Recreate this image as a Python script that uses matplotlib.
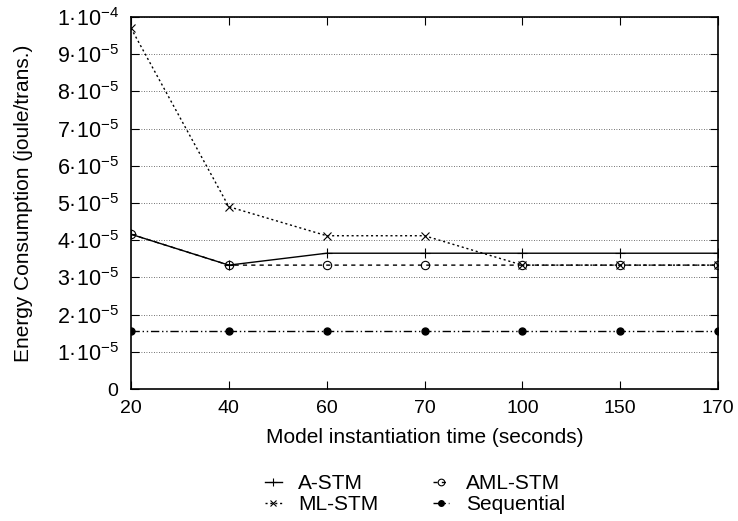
import matplotlib.pyplot as plt

plt.rcParams['font.family'] = ['Liberation Sans', 'DejaVu Sans']
plt.rcParams['mathtext.fontset'] = 'custom'
plt.rcParams['mathtext.rm'] = 'Liberation Sans'
plt.rcParams['mathtext.default'] = 'regular'

# valores
tempos = ['20', '40', '60', '70', '100', '150', '170']
a_stm = [4.16e-5, 3.33e-5, 3.65e-5, 3.65e-5, 3.65e-5, 3.65e-5, 3.65e-5]
ml_stm = [9.7e-5, 4.9e-5, 4.12e-5, 4.12e-5, 3.33e-5, 3.33e-5, 3.33e-5]
aml_stm = [4.16e-5, 3.33e-5, 3.33e-5, 3.33e-5, 3.33e-5, 3.33e-5, 3.33e-5]
sequencial = [1.56e-5] * 7

yticks = [i * 1e-5 for i in range(11)]
ylabels = ['0'] + ['%d·10$^{-5}$' % i for i in range(1, 10)] + ['1·10$^{-4}$']

fig = plt.figure(figsize=(7.38, 5.21), dpi=100)
ax = fig.add_axes([131 / 738, 1 - 389 / 521, (718 - 131) / 738, (389 - 17) / 521])

x = list(range(len(tempos)))
ax.plot(x, a_stm, color='black', lw=1, ls='-', marker='+', ms=7, mew=0.8, label='A-STM')
ax.plot(x, ml_stm, color='black', lw=1, ls=(0, (1.5, 2)), marker='x', ms=6, mew=0.8, label='ML-STM')
ax.plot(x, aml_stm, color='black', lw=1, ls=(0, (3, 3)), marker='o', ms=6, mfc='none', mew=0.8, label='AML-STM')
ax.plot(x, sequencial, color='black', lw=1, ls=(0, (6, 2, 1, 2, 1, 2)), marker='o', ms=5, label='Sequential')

ax.set_xlim(0, len(tempos) - 1)
ax.set_ylim(0, 1e-4)
ax.set_xticks(x)
ax.set_xticklabels(tempos)
ax.set_yticks(yticks)
ax.set_yticklabels(ylabels, fontsize=15.5)
ax.get_yticklabels()[0].set_fontsize(14)  # o "0" tem o mesmo tamanho dos rótulos do eixo x
ax.tick_params(direction='in', top=True, right=True, length=6, width=0.8)
ax.tick_params(axis='x', pad=8, labelsize=14)
ax.tick_params(axis='y', pad=9)
for s in ax.spines.values():
    s.set_linewidth(1.2)
ax.yaxis.grid(True, ls=(0, (1, 2)), color='#444444', lw=0.6)

ax.set_xlabel('Model instantiation time (seconds)', fontsize=15, labelpad=8)
ax.set_ylabel('Energy Consumption (joule/trans.)', fontsize=15, labelpad=17)

fig.legend(loc='upper left', bbox_to_anchor=(265 / 738, 1 - 474 / 521), ncol=2, frameon=False,
           fontsize=15, handlelength=0.8, handletextpad=0.8, columnspacing=2.6,
           labelspacing=0.1, borderaxespad=0, borderpad=0, markerscale=0.8)

fig.savefig('out.png', dpi=100)
